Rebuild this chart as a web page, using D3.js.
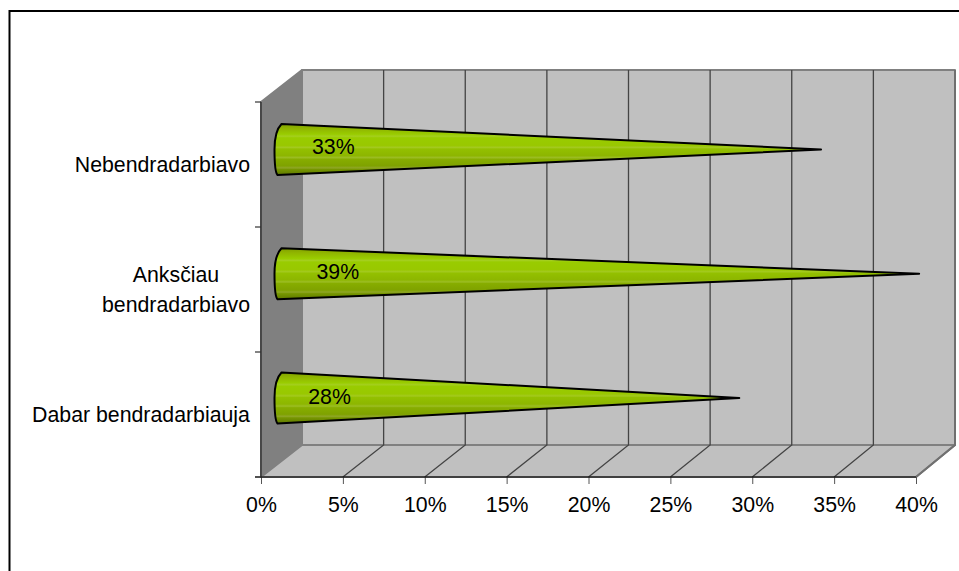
<!DOCTYPE html>
<html>
<head>
<meta charset="utf-8">
<script src="https://cdn.jsdelivr.net/npm/d3@7/dist/d3.min.js"></script>
<style>
  html, body { margin: 0; padding: 0; background: #fff; }
  svg { display: block; }
  text { font-family: "Liberation Sans", Arial, sans-serif; font-size: 21.3px; fill: #000; }
</style>
</head>
<body>
<script>
// Survey answers, listed from the top of the chart to the bottom
const categories = ["Nebendradarbiavo", "Anksčiau bendradarbiavo", "Dabar bendradarbiauja"];
const categoryLines = [["Nebendradarbiavo"], ["Anksčiau", "bendradarbiavo"], ["Dabar bendradarbiauja"]];
const shares = [33, 39, 28];
const shareTicks = [0, 5, 10, 15, 20, 25, 30, 35, 40];

const width = 959, height = 571;
const depthY = 32;           // vertical offset of the back wall
const coneRadius = 25.5;

const svg = d3.select("body").append("svg").attr("width", width).attr("height", height);

const x = d3.scaleLinear().domain([0, 40]).range([261, 916]);
const xBack = d3.scaleLinear().domain([0, 40]).range([302, 955]);
const y = d3.scaleBand().domain(categories).range([102, 477]);
const yCone = d3.scaleBand().domain(categories).range([87.4, 460.1]);

// Outer frame: only the top and left edges fall inside the page
svg.append("path")
  .attr("d", d3.line()([[9.5, height], [9.5, 11], [width, 11]]))
  .attr("fill", "none").attr("stroke", "#000").attr("stroke-width", 2);

const defs = svg.append("defs");
const shading = [
  [0, "#7f9f00"], [0.08, "#8fb300"], [0.2, "#99cc00"], [0.24, "#a4cf1e"], [0.27, "#99cc00"],
  [0.42, "#99c800"], [0.46, "#a3c91f"], [0.49, "#93c000"], [0.62, "#8db600"], [0.66, "#9cbd24"],
  [0.69, "#87ad00"], [0.82, "#7fa200"], [0.86, "#8fa626"], [0.89, "#769600"], [1, "#5f7800"]
];
const grad = defs.append("linearGradient").attr("id", "coneFill")
  .attr("x1", 0).attr("y1", 0).attr("x2", 0).attr("y2", 1);
grad.selectAll("stop").data(shading).join("stop")
  .attr("offset", d => d[0]).attr("stop-color", d => d[1]);

const yTop = y.range()[0], yBot = y.range()[1];
const f0 = x(0), f40 = x(40), b0 = xBack(0), b40 = xBack(40);

// Back wall, side wall and floor
const walls = [
  { pts: [[b0, yTop - depthY], [b40, yTop - depthY], [b40, yBot - depthY], [b0, yBot - depthY]], fill: "#c0c0c0" },
  { pts: [[f0, yTop], [b0, yTop - depthY], [b0, yBot - depthY], [f0, yBot]], fill: "#808080" },
  { pts: [[f0, yBot], [b0, yBot - depthY], [b40, yBot - depthY], [f40, yBot]], fill: "#c0c0c0" }
];
svg.append("g").selectAll("path").data(walls).join("path")
  .attr("d", d => d3.line()(d.pts) + "Z")
  .attr("fill", d => d.fill).attr("stroke", "#808080").attr("stroke-width", 2)
  .attr("stroke-linejoin", "round");

// Gridlines run along the floor and then up the back wall
svg.append("g").selectAll("path").data(shareTicks.slice(1)).join("path")
  .attr("d", d => d3.line()([[x(d), yBot], [xBack(d), yBot - depthY], [xBack(d), yTop - depthY]]))
  .attr("fill", "none").attr("stroke", d => d === 40 ? "#707070" : "#444")
  .attr("stroke-width", d => d === 40 ? 2 : 1.3);

// Cones sit halfway into the depth of the chart
const cone = svg.append("g").selectAll("g").data(shares).join("g");
const midX = v => (x(v) + xBack(v)) / 2;
function conePath(v, i) {
  const cy = yCone(categories[i]) + yCone.bandwidth() / 2;
  const bx = midX(0);
  const tip = midX(v);
  const r = coneRadius;
  const p = d3.path();
  p.moveTo(tip, cy);
  p.lineTo(bx, cy - r);
  p.bezierCurveTo(bx - 4, cy - r + 4, bx - 7, cy - r * 0.5, bx - 7, cy);
  p.bezierCurveTo(bx - 7, cy + r * 0.5, bx - 6, cy + r - 2, bx - 4, cy + r);
  p.closePath();
  return p.toString();
}
cone.append("path")
  .attr("d", conePath)
  .attr("fill", "url(#coneFill)")
  .attr("stroke", "#000").attr("stroke-width", 2).attr("stroke-linejoin", "round");
cone.append("text")
  .attr("text-anchor", "middle")
  .attr("x", d => midX(0) + 27 + 0.75 * d)
  .attr("y", (d, i) => y(categories[i]) + y.bandwidth() / 2 - depthY / 2 - 1.5)
  .attr("dy", "0.35em")
  .text(d => d + "%");

// Horizontal value axis along the front edge of the floor
const xAxis = svg.append("g").attr("transform", `translate(0,${yBot})`)
  .call(d3.axisBottom(x).tickValues(shareTicks).tickFormat(d => d + "%").tickSize(7).tickPadding(12.5));
xAxis.select(".domain").remove();
xAxis.selectAll("line").attr("stroke", "#555");
xAxis.append("line").attr("x1", f0 - 6).attr("x2", f40).attr("stroke", "#000").attr("stroke-width", 1.2);

// Vertical axis: ticks mark the edges of each category band
const yEdges = [...categories.map(c => y(c)), yBot];
svg.append("line").attr("x1", f0).attr("x2", f0).attr("y1", yTop).attr("y2", yBot)
  .attr("stroke", "#222").attr("stroke-width", 1.2);
svg.append("g").selectAll("line").data(yEdges).join("line")
  .attr("x1", f0 - 6).attr("x2", f0).attr("y1", d => d).attr("y2", d => d)
  .attr("stroke", "#333").attr("stroke-width", 1.2);

// Category labels, with wrapped lines centred on one another
const blockRight = f0 - 11;
svg.append("g").selectAll("text").data(categories).join("text")
  .attr("text-anchor", "middle")
  .each(function (c, i) {
    const t = d3.select(this);
    const lines = categoryLines[i];
    const cy = y(c) + y.bandwidth() / 2;
    t.selectAll("tspan").data(lines).join("tspan")
      .attr("x", 0)
      .attr("y", (l, k) => cy + (k - (lines.length - 1) / 2) * 30)
      .attr("dy", "0.35em").text(l => l);
    const w = t.node().getBBox().width;
    t.selectAll("tspan").attr("x", blockRight - w / 2);
  });
</script>
</body>
</html>
